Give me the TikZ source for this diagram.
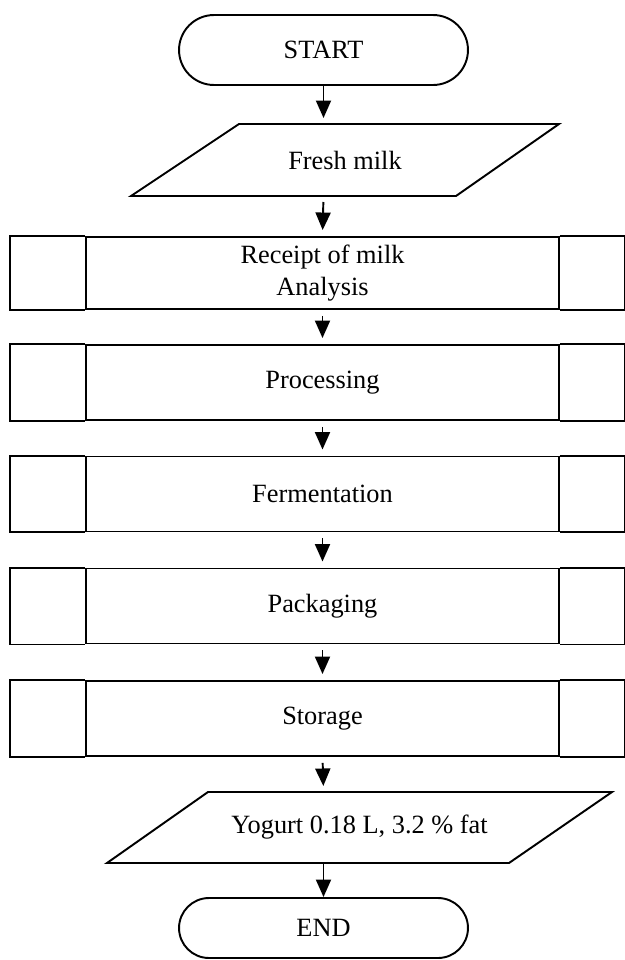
\documentclass[tikz,border=0pt]{standalone}
\usepackage{fontspec}
\setmainfont{Liberation Serif}
\usetikzlibrary{arrows.meta}
\begin{document}
\begin{tikzpicture}[x=0.02cm,y=-0.02cm,line width=1.1pt,
  every node/.style={font=\fontsize{15}{18}\selectfont},
  term/.style={draw,rounded corners=0.7cm,minimum width=5.78cm,minimum height=1.4cm,inner sep=0},
  procbox/.style={draw,minimum width=9.46cm,minimum height=1.5cm,inner sep=0,align=center},
  lbl/.style={inner sep=0},
  arr/.style={-{Triangle[length=0.35cm,width=0.3cm]}},
  gapped/.style={shorten <=0.12cm,shorten >=0.12cm}]
\useasboundingbox (0,0) rectangle (625,960);

% START
\node[term] (start) at (323.5,50) {START};

% Fresh milk (input)
\draw (131,196) -- (239,124) -- (559,124) -- (456,196) -- cycle;
\node[lbl] (milk) at (345,160) {Fresh milk};
\coordinate (milkN) at (323.5,124);
\coordinate (milkS) at (323.5,196);

% process boxes
\node[procbox,minimum height=1.44cm] (b1) at (322.5,273) {Receipt of milk\\Analysis};
\node[procbox] (b2) at (322.5,382.5) {Processing};
\node[procbox] (b3) at (322.5,494) {Fermentation};
\node[procbox] (b4) at (322.5,606) {Packaging};
\node[procbox] (b5) at (322.5,718.5) {Storage};
\foreach \b in {b1,b2,b3,b4,b5}{
  \draw (\b.north west) -- ++(-75,0) |- (\b.south west);
  \draw (\b.north east) -- ++(65,0) |- (\b.south east);
}

% Yogurt (output)
\draw (107,863) -- (208,792) -- (612,792) -- (509,863) -- cycle;
\node[lbl] (yog) at (359.5,827.5) {Yogurt 0.18 L, 3.2 \% fat};
\coordinate (yogN) at (323.5,792);
\coordinate (yogS) at (323.5,863);

% END
\node[term,minimum height=1.2cm,rounded corners=0.6cm] (end) at (323.5,928) {END};

% connectors
\draw[arr,shorten >=0.12cm] (start.south) -- (milkN);
\draw[arr,gapped] (milkS) -- (b1.north);
\draw[arr,gapped] (b1.south) -- (b2.north);
\draw[arr,gapped] (b2.south) -- (b3.north);
\draw[arr,gapped] (b3.south) -- (b4.north);
\draw[arr,gapped] (b4.south) -- (b5.north);
\draw[arr,gapped] (b5.south) -- (yogN);
\draw[arr] (yogS) -- (end.north);
\end{tikzpicture}
\end{document}
